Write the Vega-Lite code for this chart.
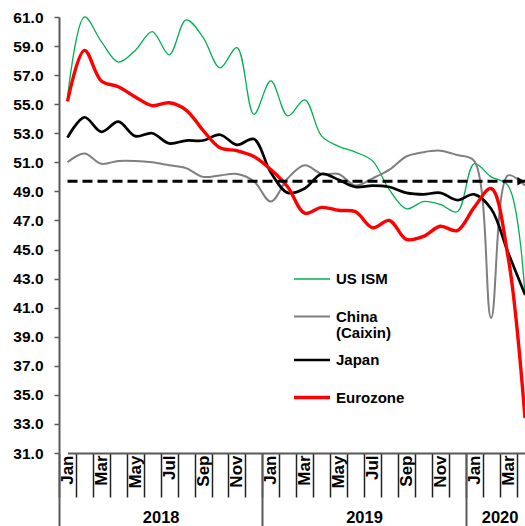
{
  "$schema": "https://vega.github.io/schema/vega-lite/v6.json",
  "width": 466,
  "height": 436,
  "autosize": "none",
  "padding": {"left": 59, "top": 17, "right": 0, "bottom": 73},
  "background": "white",
  "config": {
    "view": {"stroke": null},
    "font": "Liberation Sans",
    "axis": {"grid": false, "title": null, "labelFont": "Liberation Sans", "labelFontWeight": "bold", "labelColor": "black"},
    "axisY": {"labelOverlap": false, "labelBound": false}
  },
  "datasets": {
    "pmi": [
      {"month": "2018-01", "series": "US ISM", "value": 55.5},
      {"month": "2018-02", "series": "US ISM", "value": 61.0},
      {"month": "2018-03", "series": "US ISM", "value": 59.3},
      {"month": "2018-04", "series": "US ISM", "value": 57.9},
      {"month": "2018-05", "series": "US ISM", "value": 58.7},
      {"month": "2018-06", "series": "US ISM", "value": 60.0},
      {"month": "2018-07", "series": "US ISM", "value": 58.4},
      {"month": "2018-08", "series": "US ISM", "value": 60.8},
      {"month": "2018-09", "series": "US ISM", "value": 59.6},
      {"month": "2018-10", "series": "US ISM", "value": 57.5},
      {"month": "2018-11", "series": "US ISM", "value": 58.9},
      {"month": "2018-12", "series": "US ISM", "value": 54.3},
      {"month": "2019-01", "series": "US ISM", "value": 56.6},
      {"month": "2019-02", "series": "US ISM", "value": 54.2},
      {"month": "2019-03", "series": "US ISM", "value": 55.3},
      {"month": "2019-04", "series": "US ISM", "value": 52.8},
      {"month": "2019-05", "series": "US ISM", "value": 52.1},
      {"month": "2019-06", "series": "US ISM", "value": 51.7},
      {"month": "2019-07", "series": "US ISM", "value": 51.1},
      {"month": "2019-08", "series": "US ISM", "value": 49.1},
      {"month": "2019-09", "series": "US ISM", "value": 47.8},
      {"month": "2019-10", "series": "US ISM", "value": 48.3},
      {"month": "2019-11", "series": "US ISM", "value": 48.1},
      {"month": "2019-12", "series": "US ISM", "value": 47.6},
      {"month": "2020-01", "series": "US ISM", "value": 50.9},
      {"month": "2020-02", "series": "US ISM", "value": 50.0},
      {"month": "2020-03", "series": "US ISM", "value": 49.4},
      {"month": "2020-04", "series": "US ISM", "value": 41.8},
      {"month": "2018-01", "series": "China (Caixin)", "value": 51.0},
      {"month": "2018-02", "series": "China (Caixin)", "value": 51.6},
      {"month": "2018-03", "series": "China (Caixin)", "value": 50.9},
      {"month": "2018-04", "series": "China (Caixin)", "value": 51.1},
      {"month": "2018-05", "series": "China (Caixin)", "value": 51.1},
      {"month": "2018-06", "series": "China (Caixin)", "value": 51.0},
      {"month": "2018-07", "series": "China (Caixin)", "value": 50.8},
      {"month": "2018-08", "series": "China (Caixin)", "value": 50.6},
      {"month": "2018-09", "series": "China (Caixin)", "value": 50.0},
      {"month": "2018-10", "series": "China (Caixin)", "value": 50.1},
      {"month": "2018-11", "series": "China (Caixin)", "value": 50.2},
      {"month": "2018-12", "series": "China (Caixin)", "value": 49.7},
      {"month": "2019-01", "series": "China (Caixin)", "value": 48.3},
      {"month": "2019-02", "series": "China (Caixin)", "value": 49.9},
      {"month": "2019-03", "series": "China (Caixin)", "value": 50.8},
      {"month": "2019-04", "series": "China (Caixin)", "value": 50.2},
      {"month": "2019-05", "series": "China (Caixin)", "value": 50.2},
      {"month": "2019-06", "series": "China (Caixin)", "value": 49.4},
      {"month": "2019-07", "series": "China (Caixin)", "value": 49.9},
      {"month": "2019-08", "series": "China (Caixin)", "value": 50.5},
      {"month": "2019-09", "series": "China (Caixin)", "value": 51.4},
      {"month": "2019-10", "series": "China (Caixin)", "value": 51.7},
      {"month": "2019-11", "series": "China (Caixin)", "value": 51.8},
      {"month": "2019-12", "series": "China (Caixin)", "value": 51.5},
      {"month": "2020-01", "series": "China (Caixin)", "value": 51.1},
      {"month": "2020-02", "series": "China (Caixin)", "value": 40.3},
      {"month": "2020-03", "series": "China (Caixin)", "value": 50.1},
      {"month": "2020-04", "series": "China (Caixin)", "value": 49.4},
      {"month": "2018-01", "series": "Japan", "value": 52.7},
      {"month": "2018-02", "series": "Japan", "value": 54.1},
      {"month": "2018-03", "series": "Japan", "value": 53.1},
      {"month": "2018-04", "series": "Japan", "value": 53.8},
      {"month": "2018-05", "series": "Japan", "value": 52.8},
      {"month": "2018-06", "series": "Japan", "value": 53.0},
      {"month": "2018-07", "series": "Japan", "value": 52.3},
      {"month": "2018-08", "series": "Japan", "value": 52.5},
      {"month": "2018-09", "series": "Japan", "value": 52.5},
      {"month": "2018-10", "series": "Japan", "value": 52.9},
      {"month": "2018-11", "series": "Japan", "value": 52.2},
      {"month": "2018-12", "series": "Japan", "value": 52.6},
      {"month": "2019-01", "series": "Japan", "value": 50.3},
      {"month": "2019-02", "series": "Japan", "value": 48.9},
      {"month": "2019-03", "series": "Japan", "value": 49.2},
      {"month": "2019-04", "series": "Japan", "value": 50.2},
      {"month": "2019-05", "series": "Japan", "value": 49.8},
      {"month": "2019-06", "series": "Japan", "value": 49.3},
      {"month": "2019-07", "series": "Japan", "value": 49.4},
      {"month": "2019-08", "series": "Japan", "value": 49.3},
      {"month": "2019-09", "series": "Japan", "value": 48.9},
      {"month": "2019-10", "series": "Japan", "value": 48.8},
      {"month": "2019-11", "series": "Japan", "value": 48.9},
      {"month": "2019-12", "series": "Japan", "value": 48.4},
      {"month": "2020-01", "series": "Japan", "value": 48.8},
      {"month": "2020-02", "series": "Japan", "value": 47.8},
      {"month": "2020-03", "series": "Japan", "value": 44.8},
      {"month": "2020-04", "series": "Japan", "value": 41.9},
      {"month": "2018-01", "series": "Eurozone", "value": 55.2},
      {"month": "2018-02", "series": "Eurozone", "value": 58.7},
      {"month": "2018-03", "series": "Eurozone", "value": 56.6},
      {"month": "2018-04", "series": "Eurozone", "value": 56.2},
      {"month": "2018-05", "series": "Eurozone", "value": 55.5},
      {"month": "2018-06", "series": "Eurozone", "value": 54.9},
      {"month": "2018-07", "series": "Eurozone", "value": 55.1},
      {"month": "2018-08", "series": "Eurozone", "value": 54.6},
      {"month": "2018-09", "series": "Eurozone", "value": 53.2},
      {"month": "2018-10", "series": "Eurozone", "value": 52.0},
      {"month": "2018-11", "series": "Eurozone", "value": 51.8},
      {"month": "2018-12", "series": "Eurozone", "value": 51.4},
      {"month": "2019-01", "series": "Eurozone", "value": 50.5},
      {"month": "2019-02", "series": "Eurozone", "value": 49.3},
      {"month": "2019-03", "series": "Eurozone", "value": 47.5},
      {"month": "2019-04", "series": "Eurozone", "value": 47.9},
      {"month": "2019-05", "series": "Eurozone", "value": 47.7},
      {"month": "2019-06", "series": "Eurozone", "value": 47.6},
      {"month": "2019-07", "series": "Eurozone", "value": 46.5},
      {"month": "2019-08", "series": "Eurozone", "value": 47.0},
      {"month": "2019-09", "series": "Eurozone", "value": 45.7},
      {"month": "2019-10", "series": "Eurozone", "value": 45.9},
      {"month": "2019-11", "series": "Eurozone", "value": 46.6},
      {"month": "2019-12", "series": "Eurozone", "value": 46.3},
      {"month": "2020-01", "series": "Eurozone", "value": 47.9},
      {"month": "2020-02", "series": "Eurozone", "value": 49.2},
      {"month": "2020-03", "series": "Eurozone", "value": 44.5},
      {"month": "2020-04", "series": "Eurozone", "value": 33.4}
    ],
    "ref": [
      {"month": "2018-01", "level": 49.7},
      {"month": "2020-04", "level": 49.7}
    ]
  },
  "resolve": {"axis": {"x": "independent"}},
  "layer": [
    {
      "data": {"name": "pmi"},
      "mark": {"type": "line", "interpolate": "catmull-rom"},
      "encoding": {
        "x": {
          "field": "month", "type": "ordinal",
          "scale": {"type": "point", "padding": 0, "range": [8.5, 466]},
          "axis": {
            "orient": "bottom",
            "tickOffset": -8.47,
            "labelOffset": 8.47,
            "tickSize": 44,
            "tickColor": "#222222",
            "tickWidth": 1.5,
            "domainColor": "#595959",
            "domainWidth": 2,
            "labelAngle": 270,
            "labelPadding": -42,
            "labelFontSize": 17,
            "labelOverlap": false,
            "labelBound": false,
            "labelExpr": "toNumber(slice(datum.value,5,7)) % 2 == 1 ? ['Jan','Feb','Mar','Apr','May','Jun','Jul','Aug','Sep','Oct','Nov','Dec'][toNumber(slice(datum.value,5,7))-1] : ''"
          }
        },
        "y": {
          "field": "value", "type": "quantitative", "title": null,
          "scale": {"domain": [31, 61], "nice": false, "zero": false},
          "axis": {
            "values": [31, 33, 35, 37, 39, 41, 43, 45, 47, 49, 51, 53, 55, 57, 59, 61],
            "format": ".1f",
            "tickSize": 5,
            "tickColor": "#595959",
            "tickWidth": 1.5,
            "domainColor": "#595959",
            "domainWidth": 2,
            "labelFontSize": 15.5,
            "labelPadding": 11,
            "labelOverlap": false,
            "labelBound": false
          }
        },
        "color": {
          "field": "series", "type": "nominal",
          "scale": {"domain": ["US ISM", "China (Caixin)", "Japan", "Eurozone"], "range": ["#00B050", "#7F7F7F", "#000000", "#FF0000"]},
          "legend": {
            "orient": "none", "legendX": 233, "legendY": 244,
            "title": null, "padding": 0,
            "symbolType": "stroke", "symbolSize": 1296,
            "labelFont": "Liberation Sans", "labelFontWeight": "bold", "labelFontSize": 15, "labelColor": "black",
            "labelOffset": 4, "rowPadding": 1.5, "clipHeight": 36, "labelLimit": 0,
            "labelExpr": "datum.label == 'China (Caixin)' ? ['China', '(Caixin)'] : datum.label",
            "encode": {
              "symbols": {"update": {"strokeWidth": {"signal": "datum.value == 'US ISM' ? 1.3 : 3.4"}}},
              "labels": {"update": {"lineHeight": {"value": 16}}}
            }
          }
        },
        "strokeWidth": {
          "field": "series", "type": "nominal",
          "scale": {"domain": ["US ISM", "China (Caixin)", "Japan", "Eurozone"], "range": [1.3, 3.4, 3, 3.3]},
          "legend": null
        }
      }
    },
    {
      "data": {"name": "ref"},
      "mark": {"type": "line", "color": "black", "strokeWidth": 3, "strokeDash": [10, 5]},
      "encoding": {
        "x": {
          "field": "month", "type": "ordinal",
          "axis": {
            "orient": "bottom",
            "values": ["2018-01", "2018-07", "2019-01", "2019-07", "2020-01", "2020-03"],
            "domain": false,
            "tickOffset": -8.47,
            "labelOffset": 0,
            "tickSize": 80,
            "tickColor": "#595959",
            "tickWidth": 2,
            "tickOpacity": {"condition": {"test": "slice(datum.value,5,7) == '01'", "value": 1}, "value": 0},
            "labelAngle": 0,
            "labelBaseline": "middle",
            "labelPadding": -16,
            "labelFontSize": 16.5,
            "labelOverlap": false,
            "labelBound": false,
            "labelExpr": "slice(datum.value,5,7) == '01' ? '' : slice(datum.value,0,4)"
          }
        },
        "y": {
          "field": "level", "type": "quantitative", "title": null,
          "axis": {
            "values": [31, 33, 35, 37, 39, 41, 43, 45, 47, 49, 51, 53, 55, 57, 59, 61],
            "format": ".1f",
            "tickSize": 5,
            "tickColor": "#595959",
            "tickWidth": 1.5,
            "domainColor": "#595959",
            "domainWidth": 2,
            "labelFontSize": 15.5,
            "labelPadding": 11,
            "labelOverlap": false,
            "labelBound": false
          }
        }
      }
    },
    {
      "data": {"name": "ref"},
      "transform": [{"filter": "datum.month == '2020-04'"}],
      "mark": {"type": "point", "shape": "triangle-right", "filled": true, "color": "black", "size": 70, "opacity": 1, "xOffset": -4},
      "encoding": {
        "x": {"field": "month", "type": "ordinal", "axis": null},
        "y": {
          "field": "level", "type": "quantitative", "title": null,
          "axis": {
            "values": [31, 33, 35, 37, 39, 41, 43, 45, 47, 49, 51, 53, 55, 57, 59, 61],
            "format": ".1f",
            "tickSize": 5,
            "tickColor": "#595959",
            "tickWidth": 1.5,
            "domainColor": "#595959",
            "domainWidth": 2,
            "labelFontSize": 15.5,
            "labelPadding": 11,
            "labelOverlap": false,
            "labelBound": false
          }
        }
      }
    }
  ]
}
